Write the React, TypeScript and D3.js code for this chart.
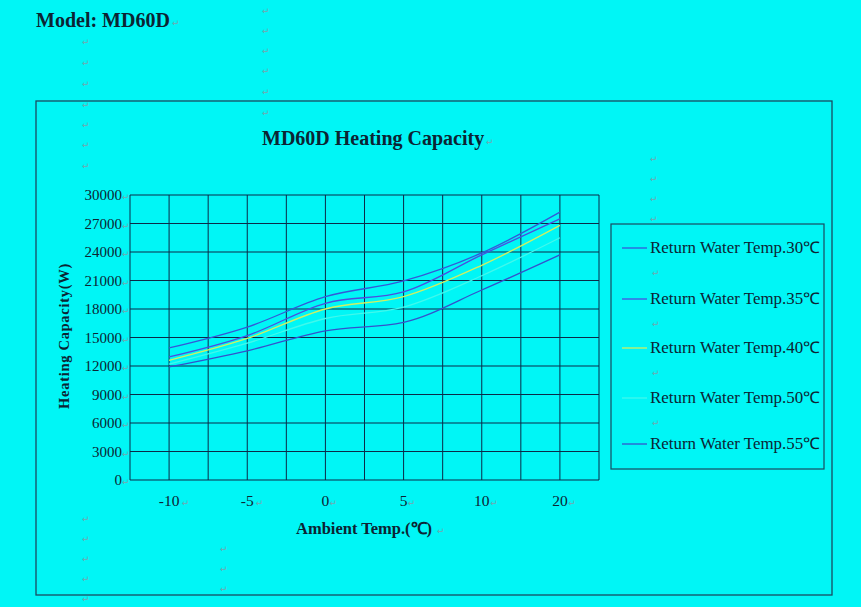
import React from "react";
import * as d3 from "d3";

const categories = ["-10", "-5", "0", "5", "10", "20"];
const yTicks = [0, 3000, 6000, 9000, 12000, 15000, 18000, 21000, 24000, 27000, 30000];
const seriesNames = [
  "Return Water Temp.30℃",
  "Return Water Temp.35℃",
  "Return Water Temp.40℃",
  "Return Water Temp.50℃",
  "Return Water Temp.55℃",
];
const temp30 = [13900, 16100, 19300, 20950, 23900, 28200];
const temp35 = [12950, 15200, 18600, 19800, 23700, 27500];
const temp40 = [12600, 14900, 18000, 19300, 22600, 26800];
const temp50 = [12200, 14400, 17000, 18200, 21500, 25500];
const temp55 = [11900, 13600, 15700, 16600, 20000, 23700];
const seriesValues = [temp30, temp35, temp40, temp50, temp55];
const seriesColors = ["#3458d8", "#4a4ee0", "#d0f060", "#40f8ec", "#3452cc"];

const BG = "#00f6f6";
const TEXT = "#0c2433";
const GRID = "#0b2a48";
const MARK = "#6fa8b0";
const FONT = "'Liberation Serif', 'Times New Roman', serif";

function Mark({ x, y }: { x: number; y: number }) {
  return (
    <text x={x} y={y} fontSize={9} fill={MARK} fontFamily="'DejaVu Sans', sans-serif">
      ↵
    </text>
  );
}

export default function App() {
  const W = 861;
  const H = 607;
  const x = d3.scaleBand<string>().domain(categories).range([130, 599]).padding(0);
  const y = d3.scaleLinear().domain([0, 30000]).range([480, 195]);
  const bw = x.bandwidth();

  const vLines: number[] = [];
  categories.forEach((c) => {
    const x0 = x(c)!;
    vLines.push(x0, x0 + bw / 2);
  });
  vLines.push(x.range()[1]);

  const line = d3
    .line<number>()
    .x((_, i) => x(categories[i])! + bw / 2)
    .y((v) => y(v))
    .curve(d3.curveMonotoneX);

  const leftMarks = [45, 66, 87, 108, 128, 148, 169];
  const midMarks = [14, 34, 54, 74, 95, 116];
  const rightMarks = [162, 182, 202, 222];
  const botLeft = [522, 542, 562, 582, 602];
  const botMid = [552, 572, 592];
  const legendY = [248, 299, 348, 398, 444];

  return (
    <svg
      width={W}
      height={H}
      style={{ position: "absolute", left: 0, top: 0, display: "block" }}
      fontFamily={FONT}
    >
      <rect x={0} y={0} width={W} height={H} fill={BG} />
      <text x={36} y={27} fontSize={20} fontWeight="bold" fill={TEXT}>
        Model: MD60D
      </text>
      <Mark x={172} y={26} />
      {leftMarks.map((m) => (
        <Mark key={"l" + m} x={82} y={m} />
      ))}
      {midMarks.map((m) => (
        <Mark key={"m" + m} x={262} y={m} />
      ))}
      {rightMarks.map((m) => (
        <Mark key={"r" + m} x={650} y={m} />
      ))}
      {botLeft.map((m) => (
        <Mark key={"b" + m} x={82} y={m} />
      ))}
      {botMid.map((m) => (
        <Mark key={"bm" + m} x={220} y={m} />
      ))}

      <rect x={36} y={101} width={796} height={494} fill="none" stroke="#1a4a60" strokeWidth={1.3} />

      <text x={262} y={145} fontSize={20} fontWeight="bold" fill={TEXT}>
        MD60D Heating Capacity
      </text>
      <Mark x={486} y={145} />

      {/* grid */}
      {yTicks.filter((t) => t > 0).map((t) => (
        <line key={"h" + t} x1={130} x2={599} y1={y(t)} y2={y(t)} stroke={GRID} strokeWidth={1} />
      ))}
      {vLines.map((vx, i) => (
        <line key={"v" + i} x1={vx} x2={vx} y1={y(30000)} y2={y(0)} stroke={GRID} strokeWidth={1} />
      ))}
      <line x1={130} x2={599} y1={y(0)} y2={y(0)} stroke={GRID} strokeWidth={1} />

      {/* y tick labels */}
      {yTicks.map((t) => (
        <g key={"yt" + t}>
          <text x={122} y={y(t) + 5} fontSize={15} textAnchor="end" fill={TEXT}>
            {t}
          </text>
          <Mark x={122} y={y(t) + 5} />
        </g>
      ))}
      {/* x tick labels */}
      {categories.map((c) => (
        <g key={"xt" + c}>
          <text x={x(c)! + bw / 2} y={506} fontSize={15.5} textAnchor="middle" fill={TEXT}>
            {c}
          </text>
          <Mark x={x(c)! + bw / 2 + (c.length * 4.2)} y={506} />
        </g>
      ))}

      <text
        transform={`translate(69,336) rotate(-90)`}
        fontSize={14.5}
        fontWeight="bold"
        textAnchor="middle"
        fill={TEXT}
        letterSpacing={0.7}
      >
        Heating Capacity(W)
      </text>
      <text x={296} y={534} fontSize={16.5} fontWeight="bold" fill={TEXT}>
        Ambient Temp.(℃)
      </text>
      <Mark x={437} y={534} />

      {/* series */}
      {seriesValues.map((vals, i) => (
        <path key={"s" + i} d={line(vals) || ""} fill="none" stroke={seriesColors[i]} strokeWidth={1.3} />
      ))}

      {/* legend */}
      <rect x={611} y={224} width={213} height={245} fill="none" stroke="#1a4a60" strokeWidth={1.2} />
      {seriesNames.map((n, i) => (
        <g key={"lg" + i}>
          <line x1={622} x2={647} y1={legendY[i]} y2={legendY[i]} stroke={seriesColors[i]} strokeWidth={1.3} />
          <text x={650} y={legendY[i] + 5} fontSize={16} fill={TEXT} textLength={170} lengthAdjust="spacingAndGlyphs">
            {n}
          </text>
          {i < 4 && <Mark x={652} y={legendY[i] + 28} />}
        </g>
      ))}
    </svg>
  );
}
